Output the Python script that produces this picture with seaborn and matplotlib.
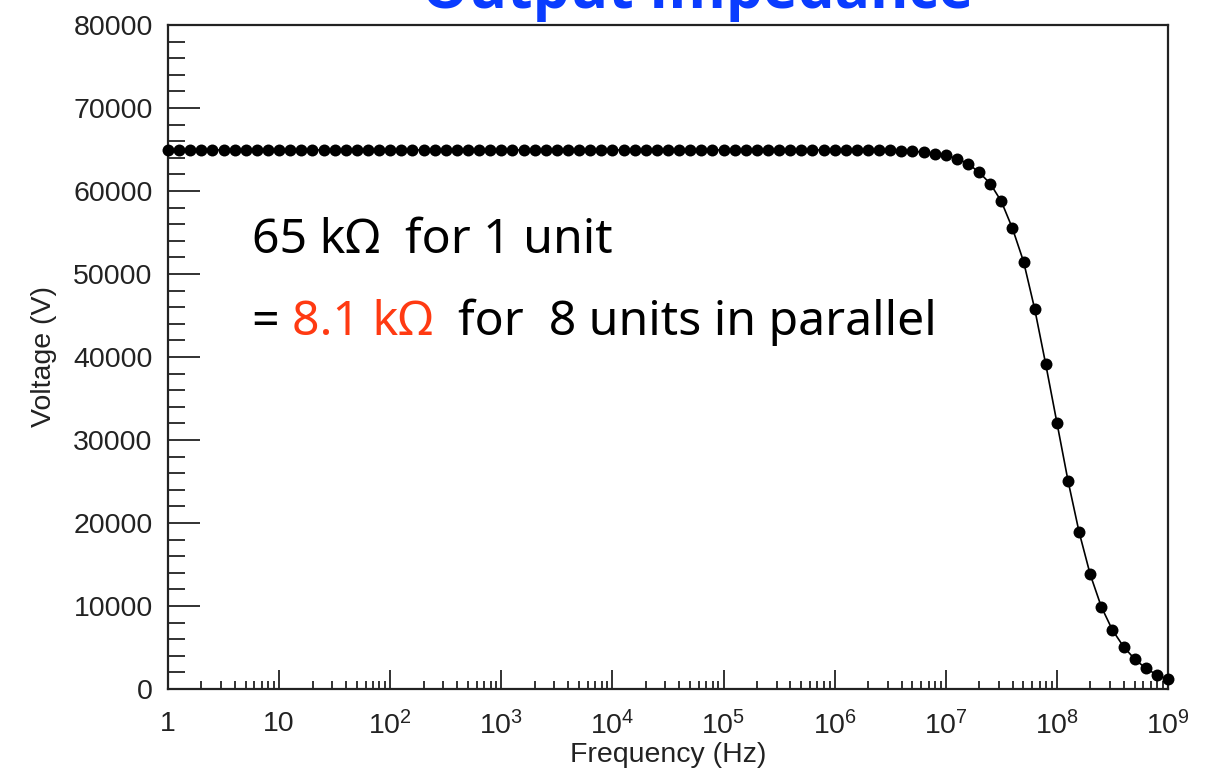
import numpy as np
import pandas as pd
import matplotlib
matplotlib.use('Agg')
import matplotlib.pyplot as plt
import seaborn as sns
from matplotlib.ticker import FixedLocator, MultipleLocator, LogLocator, NullFormatter

# ---------------- data ----------------
freq_hz = [
    1.0, 1.259, 1.585, 1.995, 2.512, 3.162, 3.981, 5.012, 6.31, 7.943,
    10.0, 12.59, 15.85, 19.95, 25.12, 31.62, 39.81, 50.12, 63.1, 79.43,
    100.0, 125.9, 158.5, 199.5, 251.2, 316.2, 398.1, 501.2, 631.0, 794.3,
    1.0e3, 1.259e3, 1.585e3, 1.995e3, 2.512e3, 3.162e3, 3.981e3, 5.012e3, 6.31e3, 7.943e3,
    1.0e4, 1.259e4, 1.585e4, 1.995e4, 2.512e4, 3.162e4, 3.981e4, 5.012e4, 6.31e4, 7.943e4,
    1.0e5, 1.259e5, 1.585e5, 1.995e5, 2.512e5, 3.162e5, 3.981e5, 5.012e5, 6.31e5, 7.943e5,
    1.0e6, 1.259e6, 1.585e6, 1.995e6, 2.512e6, 3.162e6, 3.981e6, 5.012e6, 6.31e6, 7.943e6,
    1.0e7, 1.259e7, 1.585e7, 1.995e7, 2.512e7, 3.162e7, 3.981e7, 5.012e7, 6.31e7, 7.943e7,
    1.0e8, 1.259e8, 1.585e8, 1.995e8, 2.512e8, 3.162e8, 3.981e8, 5.012e8, 6.31e8, 7.943e8,
    1.0e9,
]
voltage_v = [
    64950, 64950, 64950, 64950, 64950, 64950, 64950, 64950, 64950, 64950,
    64950, 64950, 64950, 64950, 64950, 64950, 64950, 64950, 64950, 64950,
    64950, 64950, 64950, 64950, 64950, 64950, 64950, 64950, 64950, 64950,
    64950, 64950, 64950, 64950, 64950, 64950, 64950, 64950, 64950, 64950,
    64950, 64950, 64950, 64950, 64950, 64950, 64950, 64950, 64950, 64950,
    64950, 64950, 64950, 64950, 64950, 64950, 64950, 64950, 64950, 64950,
    64950, 64940, 64930, 64920, 64900, 64880, 64850, 64800, 64650, 64500,
    64300, 63900, 63300, 62250, 60900, 58750, 55500, 51500, 45800, 39100,
    32100, 25100, 18900, 13800, 9900, 7100, 5100, 3600, 2500, 1700,
    1150,
]
x_tick_values = [1, 10, 1e2, 1e3, 1e4, 1e5, 1e6, 1e7, 1e8, 1e9]
x_tick_labels = ['1', '10', r'$\mathregular{10^{2}}$', r'$\mathregular{10^{3}}$',
                 r'$\mathregular{10^{4}}$', r'$\mathregular{10^{5}}$', r'$\mathregular{10^{6}}$',
                 r'$\mathregular{10^{7}}$', r'$\mathregular{10^{8}}$', r'$\mathregular{10^{9}}$']
y_tick_values = [0, 10000, 20000, 30000, 40000, 50000, 60000, 70000, 80000]
x_label = 'Frequency (Hz)'
y_label = 'Voltage (V)'
title_text = 'Output Impedance'
note_line1 = '65 kΩ  for 1 unit'
note_line2_parts = ['= ', '8.1 kΩ', '  for  8 units in parallel']
note_line2_colors = ['black', '#ff3a12', 'black']

# ---------------- style ----------------
sns.set_style('white')
plt.rcParams['font.family'] = ['Liberation Sans', 'DejaVu Sans']
plt.rcParams['mathtext.fontset'] = 'custom'
plt.rcParams['mathtext.rm'] = 'Liberation Sans'

df = pd.DataFrame({'freq': freq_hz, 'volt': voltage_v})

fig = plt.figure(figsize=(12.10, 7.72), dpi=100)
ax = fig.add_axes([168 / 1210, 1 - 689 / 772, 1000 / 1210, 664 / 772])

sns.lineplot(data=df, x='freq', y='volt', ax=ax, color='black', linewidth=1.2,
             marker='o', markersize=8.6, markeredgewidth=0, markerfacecolor='black',
             clip_on=False, zorder=5, sort=False, estimator=None)

ax.set_xscale('log')
ax.set_xlim(1, 1e9)
ax.set_ylim(0, 80000)

ax.xaxis.set_major_locator(FixedLocator(x_tick_values))
ax.set_xticklabels(x_tick_labels)
ax.xaxis.set_minor_locator(LogLocator(base=10, subs=np.arange(2, 10), numticks=100))
ax.xaxis.set_minor_formatter(NullFormatter())
ax.yaxis.set_major_locator(FixedLocator(y_tick_values))
ax.set_yticklabels([str(v) for v in y_tick_values])
ax.yaxis.set_minor_locator(MultipleLocator(2000))

ax.tick_params(axis='x', which='major', direction='in', length=14, width=1.3,
               color='#222222', labelsize=20.5, labelcolor='#222222', pad=16,
               top=False, bottom=True)
ax.tick_params(axis='x', which='minor', direction='in', length=6, width=1.3,
               color='#222222', top=False, bottom=True)
ax.tick_params(axis='y', which='major', direction='in', length=23, width=1.3,
               color='#222222', labelsize=20.5, labelcolor='#222222', pad=11,
               left=True, right=False)
ax.tick_params(axis='y', which='minor', direction='in', length=12.5, width=1.3,
               color='#222222', left=True, right=False)

for s in ax.spines.values():
    s.set_visible(True)
    s.set_color('#222222')
    s.set_linewidth(1.6)

ax.set_xlabel(x_label, fontsize=20.5, color='#222222', labelpad=1)
ax.set_ylabel(y_label, fontsize=20.5, color='#222222', labelpad=12)

# title (partially cut off at the top, as in the reference)
fig.text(697.5 / 1210, 1 - 8 / 772, title_text, ha='center', va='baseline',
         fontsize=42.2, fontweight='bold', color='#0a3cff', family=['Open Sans', 'DejaVu Sans'])

# annotation
note_font = ['Noto Sans', 'DejaVu Sans']
note_size = 34.7
fig.text(252 / 1210, 1 - 253 / 772, note_line1, ha='left', va='baseline',
         fontsize=note_size, color='black', family=note_font)
prev = fig.text(252 / 1210, 1 - 335 / 772, note_line2_parts[0], ha='left', va='baseline',
                fontsize=note_size, color=note_line2_colors[0], family=note_font)
for part, col in zip(note_line2_parts[1:], note_line2_colors[1:]):
    prev = ax.annotate(part, xy=(1, 0), xycoords=prev, ha='left', va='bottom',
                       fontsize=note_size, color=col, family=note_font, annotation_clip=False)

fig.savefig('out.png', dpi=100)
